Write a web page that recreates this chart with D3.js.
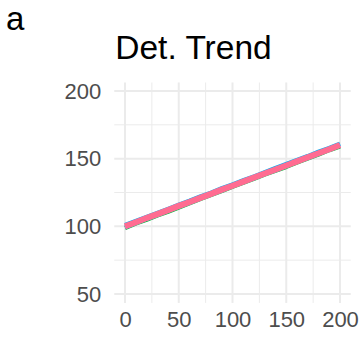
<!DOCTYPE html>
<html>
<head>
<meta charset="utf-8">
<script src="https://cdn.jsdelivr.net/npm/d3@7"></script>
<style>
  body { margin: 0; background: #fff; }
  svg { display: block; font-family: "Liberation Sans", Arial, sans-serif; }
</style>
</head>
<body>
<div id="chart"></div>
<script>
// data
var xValues = [0, 10, 20, 30, 40, 50, 60, 70, 80, 90, 100, 110, 120, 130, 140, 150, 160, 170, 180, 190, 200];
var greenSeries = [98.9, 102.2, 104.9, 108.1, 110.8, 114.0, 117.1, 120.3, 123.2, 126.2, 129.4, 132.3, 135.2, 138.4, 141.2, 144.0, 147.3, 150.2, 153.1, 156.4, 159.1];
var blueSeries = [100.9, 103.8, 106.8, 109.8, 112.8, 115.9, 118.8, 121.9, 124.8, 128.0, 130.9, 133.9, 136.8, 139.8, 143.0, 145.9, 148.9, 151.8, 155.0, 157.8, 161.0];
var purpleSeries = [99.4, 102.6, 105.6, 108.4, 111.5, 114.5, 117.5, 120.7, 123.6, 126.6, 129.8, 132.7, 135.6, 138.8, 141.6, 144.7, 147.8, 150.6, 153.7, 156.7, 159.8];
var pinkSeries = [100.1, 103.0, 106.1, 109.0, 112.0, 115.1, 118.0, 121.0, 124.0, 127.1, 130.0, 133.0, 136.1, 139.0, 142.0, 145.0, 148.0, 151.1, 154.0, 157.0, 160.1];
var seriesColors = ["#00BA38", "#00B0F6", "#C77CFF", "#FF6C91"];
var xTicks = [0, 50, 100, 150, 200];
var xMinor = [25, 75, 125, 175];
var yTicks = [50, 100, 150, 200];
var yMinor = [75, 125, 175];

var svgWidth = 362;
var svgHeight = 337;

var svg = d3.select("#chart")
  .append("svg")
  .attr("width", svgWidth)
  .attr("height", svgHeight);

svg.append("rect")
  .attr("width", svgWidth)
  .attr("height", svgHeight)
  .attr("fill", "#fff");

var xScale = d3.scaleLinear().domain([0, 200]).range([125, 340]);
var yScale = d3.scaleLinear().domain([50, 200]).range([294, 91]);

// panel limits (5% expansion)
var panelLeft = xScale(-10), panelRight = xScale(210);
var panelTop = yScale(206.3), panelBottom = yScale(43.4);

var grid = svg.append("g");

// minor grid
grid.selectAll(".xminor").data(xMinor).enter().append("line")
  .attr("x1", d => xScale(d)).attr("x2", d => xScale(d))
  .attr("y1", panelTop).attr("y2", panelBottom)
  .attr("stroke", "#EBEBEB").attr("stroke-width", 1);
grid.selectAll(".yminor").data(yMinor).enter().append("line")
  .attr("x1", panelLeft).attr("x2", panelRight)
  .attr("y1", d => yScale(d)).attr("y2", d => yScale(d))
  .attr("stroke", "#EBEBEB").attr("stroke-width", 1);

// major grid
grid.selectAll(".xmajor").data(xTicks).enter().append("line")
  .attr("x1", d => xScale(d)).attr("x2", d => xScale(d))
  .attr("y1", panelTop).attr("y2", panelBottom)
  .attr("stroke", "#EBEBEB").attr("stroke-width", 2);
grid.selectAll(".ymajor").data(yTicks).enter().append("line")
  .attr("x1", panelLeft).attr("x2", panelRight)
  .attr("y1", d => yScale(d)).attr("y2", d => yScale(d))
  .attr("stroke", "#EBEBEB").attr("stroke-width", 2);

// lines
var allSeries = [greenSeries, blueSeries, purpleSeries, pinkSeries];
var line = d3.line()
  .x((d, i) => xScale(xValues[i]))
  .y(d => yScale(d));

svg.selectAll(".series")
  .data(allSeries)
  .enter()
  .append("path")
  .attr("d", d => line(d))
  .attr("fill", "none")
  .attr("stroke", (d, i) => seriesColors[i])
  .attr("stroke-width", (d, i) => i == 3 ? 6 : 4.5)
  .attr("stroke-linejoin", "round");

// axes
var xAxis = d3.axisBottom(xScale).tickValues(xTicks).tickSize(0).tickPadding(8);
var yAxis = d3.axisLeft(yScale).tickValues(yTicks).tickSize(0).tickPadding(10);

var xg = svg.append("g")
  .attr("transform", `translate(0, ${panelBottom})`)
  .call(xAxis);
var yg = svg.append("g")
  .attr("transform", `translate(${panelLeft - 3}, 0)`)
  .call(yAxis);

[xg, yg].forEach(function(g) {
  g.select(".domain").remove();
  g.selectAll("text")
    .attr("font-family", "Liberation Sans, Arial, sans-serif")
    .attr("font-size", "22px")
    .attr("fill", "#4D4D4D");
});

// title and tag
svg.append("text")
  .attr("x", panelLeft + 1)
  .attr("y", 59)
  .attr("font-size", "33.5px")
  .attr("fill", "#000")
  .text("Det. Trend");

svg.append("text")
  .attr("x", 6)
  .attr("y", 30)
  .attr("font-size", "33px")
  .attr("fill", "#000")
  .text("a");
</script>
</body>
</html>
